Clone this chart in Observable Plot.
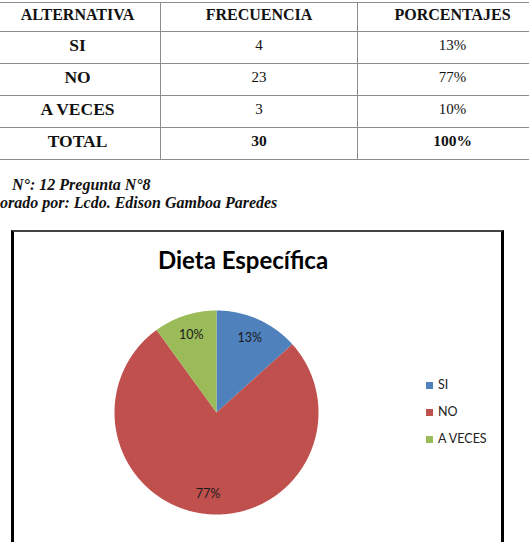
<!DOCTYPE html>
<html>
<head>
<meta charset="utf-8">
<script src="https://cdn.jsdelivr.net/npm/d3@7"></script>
<script src="https://cdn.jsdelivr.net/npm/@observablehq/plot@0.6"></script>
<style>
  html, body { margin: 0; padding: 0; background: #fff; }
  body { width: 529px; height: 542px; overflow: hidden; position: relative; }
  table.t { position: absolute; left: -6px; top: 2px; width: 553px; border-collapse: collapse; table-layout: fixed;
    font-family: "Liberation Serif", "Times New Roman", serif; color: #111; }
  table.t td, table.t th { border: 1.5px solid #8c8c8c; text-align: center; padding: 0 0 5px 0; vertical-align: middle; }
  table.t th { font-size: 16px; font-weight: bold; height: 23px; }
  table.t td { height: 26px; font-size: 15px; }
  table.t td.lab { font-size: 17.5px; font-weight: bold; }
  table.t tr.tot td { font-weight: bold; }
  table.t tr.tot td.num { font-size: 15.5px; }
  .cap { position: absolute; white-space: nowrap; font-family: "Liberation Serif", "Times New Roman", serif;
    font-weight: bold; font-style: italic; font-size: 16px; color: #111; }
  #box { position: absolute; left: 11px; top: 230px; width: 487px; height: 330px;
    border-left: 3px solid #000; border-right: 3px solid #000; border-top: 2px solid #444; }
  #plot { position: absolute; left: 14px; top: 232px; }
  #title { position: absolute; top: 13px; left: -1px; width: 460px; text-align: center;
    font-family: Lato, "Open Sans", sans-serif; font-weight: bold; font-size: 24px; color: #000; }
  #legend { position: absolute; left: 426px; top: 377px; font-family: Lato, "Open Sans", sans-serif; font-size: 12.5px; color: #222; }
  #legend .it { height: 27px; display: flex; align-items: flex-start; }
  #legend .sw { width: 7px; height: 7px; margin-top: 5px; margin-right: 5px; }
</style>
</head>
<body>
<script>
// ---- data ----
const categories = ["SI", "NO", "A VECES"];
const frecuencias = [4, 23, 3];
const porcentajes = ["13%", "77%", "10%"];
const totalFrecuencia = 30;
const totalPorcentaje = "100%";
const headers = ["ALTERNATIVA", "FRECUENCIA", "PORCENTAJES"];
const colors = ["#4F81BD", "#C0504D", "#9BBB59"];
const chartTitle = "Dieta Específica";
const caption1 = "N°: 12 Pregunta N°8";
const caption2 = "orado por: Lcdo. Edison Gamboa Paredes";

// ---- table ----
const table = document.createElement("table");
table.className = "t";
const colW = [166, 197, 190];
const cg = document.createElement("colgroup");
colW.forEach(w => { const c = document.createElement("col"); c.style.width = w + "px"; cg.appendChild(c); });
table.appendChild(cg);
const hr = document.createElement("tr");
headers.forEach(h => { const th = document.createElement("th"); th.textContent = h; hr.appendChild(th); });
table.appendChild(hr);
const addRow = (cells, cls) => {
  const tr = document.createElement("tr");
  if (cls) tr.className = cls;
  cells.forEach((c, i) => {
    const td = document.createElement("td");
    td.textContent = c;
    td.className = i === 0 ? "lab" : "num";
    tr.appendChild(td);
  });
  table.appendChild(tr);
};
categories.forEach((c, i) => addRow([c, String(frecuencias[i]), porcentajes[i]]));
addRow(["TOTAL", String(totalFrecuencia), totalPorcentaje], "tot");
document.body.appendChild(table);

// ---- captions ----
function caption(text, left, top) {
  const d = document.createElement("div");
  d.className = "cap";
  d.textContent = text;
  d.style.left = left + "px";
  d.style.top = top + "px";
  document.body.appendChild(d);
}
caption(caption1, 12, 176);
caption(caption2, 0, 194);

// ---- chart box ----
const box = document.createElement("div");
box.id = "box";
document.body.appendChild(box);

const title = document.createElement("div");
title.id = "title";
title.textContent = chartTitle;
box.appendChild(title);

// ---- pie via Plot ----
const arcs = d3.pie().sort(null)(frecuencias);
const slicePts = [];
arcs.forEach((a, i) => {
  slicePts.push({cat: categories[i], x: 0, y: 0});
  const n = Math.max(2, Math.ceil((a.endAngle - a.startAngle) / 0.01));
  for (let k = 0; k <= n; k++) {
    const t = a.startAngle + (a.endAngle - a.startAngle) * k / n;
    slicePts.push({cat: categories[i], x: Math.sin(t), y: Math.cos(t)});
  }
});
const labels = arcs.map((a, i) => {
  const m = (a.startAngle + a.endAngle) / 2;
  return {cat: categories[i], text: porcentajes[i], x: 0.8 * Math.sin(m), y: 0.8 * Math.cos(m)};
});

const plot = Plot.plot({
  width: 487,
  height: 310,
  margin: 0,
  x: {domain: [-1, 1], range: [100, 304], axis: null},
  y: {domain: [-1, 1], range: [282, 78], axis: null},
  color: {domain: categories, range: colors},
  style: {background: "transparent", overflow: "visible"},
  marks: [
    Plot.line(slicePts, {x: "x", y: "y", z: "cat", fill: "cat", stroke: null, curve: "linear-closed"}),
    Plot.text(labels, {x: "x", y: "y", text: "text", fill: "#1a1a1a", fontSize: 12.5,
      fontFamily: "Lato, 'Open Sans', sans-serif"})
  ]
});
plot.id = "plot";
document.body.appendChild(plot);

// ---- legend ----
const legend = document.createElement("div");
legend.id = "legend";
categories.forEach((c, i) => {
  const it = document.createElement("div");
  it.className = "it";
  const sw = document.createElement("div");
  sw.className = "sw";
  sw.style.background = colors[i];
  const tx = document.createElement("span");
  tx.textContent = c;
  it.appendChild(sw);
  it.appendChild(tx);
  legend.appendChild(it);
});
document.body.appendChild(legend);
</script>
</body>
</html>
